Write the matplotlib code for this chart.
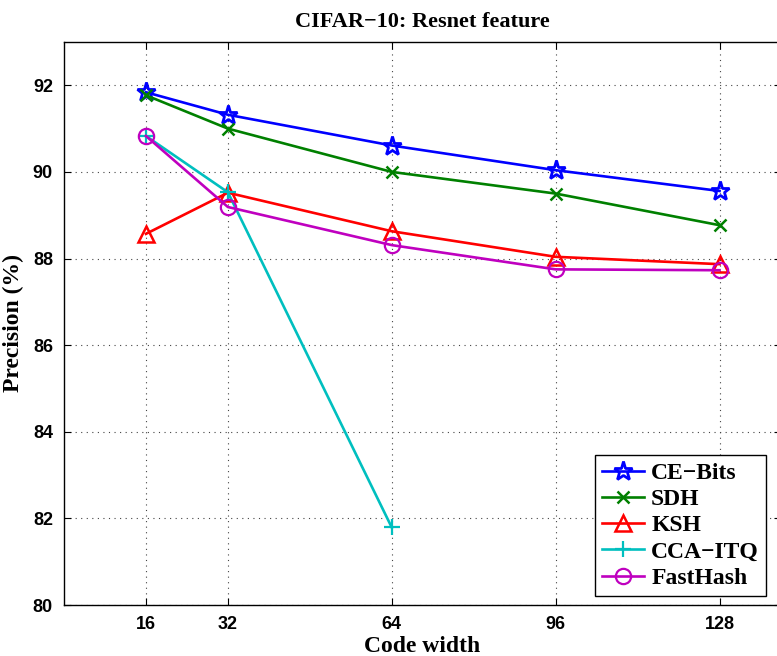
import matplotlib
matplotlib.use('Agg')
import matplotlib.pyplot as plt

code_width = [16, 32, 64, 96, 128]
x_ticks = [16, 32, 64, 96, 128]
y_ticks = [80, 82, 84, 86, 88, 90, 92]

ce_bits = [91.84, 91.32, 90.61, 90.04, 89.56]
sdh = [91.77, 91.00, 90.00, 89.50, 88.77]
ksh = [88.57, 89.52, 88.63, 88.04, 87.87]
cca_itq_x = [16, 32, 64]
cca_itq = [90.83, 89.53, 81.79]
fasthash = [90.83, 89.19, 88.31, 87.75, 87.73]

serif = ['Liberation Serif', 'DejaVu Serif']

# axes run past the right edge of the figure, like the cropped original
fig = plt.figure(figsize=(7.77, 6.56), dpi=100)
ax_w = 717 / 777
ax = fig.add_axes([64 / 777, 51 / 656, ax_w, 563 / 656])

lw = 1.9
ax.plot(code_width, ce_bits, color='#0000ff', marker='*', markersize=14, lw=lw,
        markerfacecolor='none', markeredgewidth=2.0, label='CE\u2212Bits')
ax.plot(code_width, sdh, color='#008000', marker='x', markersize=8, lw=lw,
        markeredgewidth=1.8, label='SDH')
ax.plot(code_width, ksh, color='#ff0000', marker='^', markersize=12, lw=lw,
        markerfacecolor='none', markeredgewidth=1.8, label='KSH')
ax.plot(cca_itq_x, cca_itq, color='#00bfbf', marker='+', markersize=12, lw=lw,
        markeredgewidth=1.6, label='CCA\u2212ITQ')
ax.plot(code_width, fasthash, color='#bf00bf', marker='o', markersize=11, lw=lw,
        markerfacecolor='none', markeredgewidth=1.6, label='FastHash')

ax.set_xlim(0, 140)
ax.set_ylim(80, 93)
ax.set_xticks(x_ticks)
ax.set_yticks(y_ticks)
ax.grid(True, linestyle=(0, (1, 4)), color='#444444', linewidth=0.8)
ax.tick_params(direction='in', top=True, right=True, length=5, width=0.8, labelsize=13, pad=8)
for lab in ax.get_xticklabels() + ax.get_yticklabels():
    lab.set_fontweight('bold')
    lab.set_family(['Liberation Sans', 'DejaVu Sans'])
    lab.set_fontstretch('condensed')
for sp in ax.spines.values():
    sp.set_linewidth(1.0)

ax.set_title('CIFAR\u221210: Resnet feature', fontsize=16, fontweight='bold', family=serif, pad=11)
ax.set_xlabel('Code width', fontsize=17, fontweight='bold', family=serif, labelpad=2)
ax.set_ylabel('Precision (%)', fontsize=17, fontweight='bold', family=serif, labelpad=6)

leg = ax.legend(loc='lower right', bbox_to_anchor=(1 - 15 / 717, 9 / 563),
                fancybox=False, edgecolor='black', framealpha=1,
                prop={'family': serif, 'weight': 'bold', 'size': 17},
                handlelength=1.8, handletextpad=0.3, labelspacing=0.2,
                borderpad=0.3, borderaxespad=0.0)
leg.get_frame().set_linewidth(1.0)

plt.savefig('out.png', dpi=100)
plt.close()
